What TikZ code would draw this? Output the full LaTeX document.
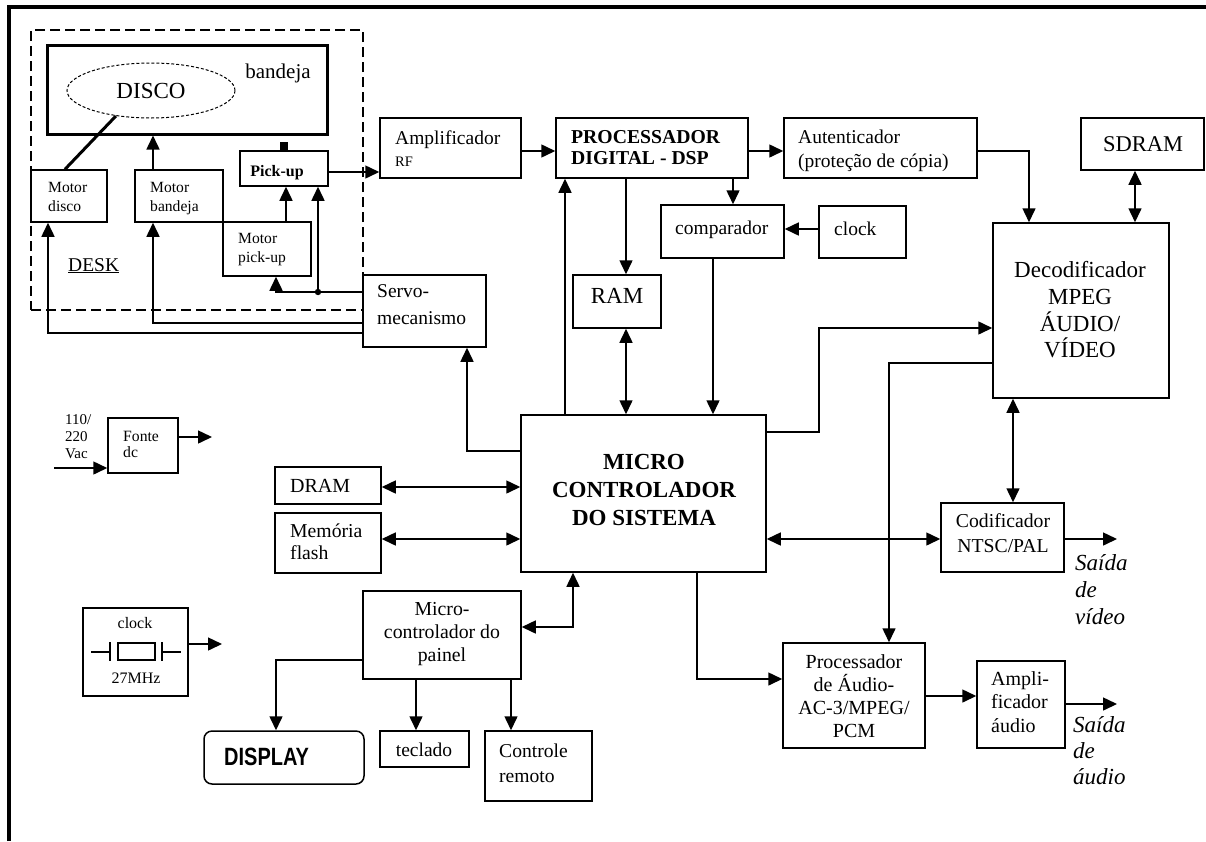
\documentclass[tikz,border=0pt]{standalone}
\usepackage{fontspec}
\usepackage{graphicx}
\setmainfont{Liberation Serif}
\newfontfamily\dispfont{Liberation Sans}
\usetikzlibrary{arrows.meta,fit,shapes.geometric}
\newcommand\myfs[2]{\fontsize{#1}{#2}\selectfont}
\begin{document}
\begin{tikzpicture}[x=1pt,y=-1pt,
  box/.style={draw, line width=1.5pt, inner sep=0pt},
  ln/.style={line width=1.5pt},
  arr/.style={ln, -{Triangle[length=14pt,width=13pt]}},
  barr/.style={ln, {Triangle[length=14pt,width=13pt]}-{Triangle[length=14pt,width=13pt]}},
  t/.style={inner sep=0pt, align=left, font=\myfs{19.5}{23}},
  tc/.style={inner sep=0pt, align=center, font=\myfs{19.5}{23}},
]
\useasboundingbox (0,0) rectangle (1206,841);
% frame
\draw[line width=4.5pt] (9,841) -- (9,7) -- (1206,7);

% desk area
\node[box, dash pattern=on 10pt off 5pt, fit={(31,30)(363,310)}] (desk) {};
\node[box, line width=3pt, fit={(47,45)(327,134)}] (band) {};
\node[t, font=\myfs{21}{21}, anchor=base] (bandt) at (278,78) {bandeja};
\node[draw, ellipse, line width=1pt, dash pattern=on 3pt off 2pt, minimum width=168pt, minimum height=55pt, inner sep=0pt, font=\myfs{23}{23}] (disco) at (151,90.5) {DISCO};
\node[box, fit={(31,170)(107,222)}] (md) {};
\node[t, font=\myfs{15.6}{19}, anchor=west] (mdt) at (48,197) {Motor\\disco};
\node[box, fit={(135,170)(223,222)}] (mb) {};
\node[t, font=\myfs{15.6}{19}, anchor=west] (mbt) at (150,199) {Motor\\bandeja};
\node[box, fit={(240,151)(328,186)}] (pu) {};
\node[fill, minimum size=8pt, inner sep=0pt, anchor=south] (pusq) at (pu.north) {};
\node[t, font=\bfseries\myfs{16}{16}] (put) at (277,173) {Pick-up};
\node[box, fit={(223,222)(311,276)}] (mpu) {};
\node[t, font=\myfs{15.6}{19}, anchor=west] (mput) at (238,250) {Motor\\pick-up};
\node[t, anchor=base west] (deskt) at (68,271) {\underline{DESK}};

\draw[line width=3pt] (disco.216.9) -- (md.north -| 65,0);
\draw[arr] (mb.north -| 153,0) -- (band.south -| 153,0);
\draw[arr] (mpu.north -| 286,0) -- (pu.south -| 286,0);

% servo
\node[box, fit={(363,275)(486,347)}] (servo) {};
\node[t, font=\myfs{19.5}{27}, anchor=west] (servot) at (377,305) {Servo-\\mecanismo};
\draw[arr] (servo.west |- 0,292) -| (mpu.south -| 276,0);
\coordinate (j) at (318,292);
\fill (j) circle (3.2pt);
\draw[arr] (j) -- (pu.south -| j);
\draw[arr] (servo.west |- 0,323) -| (mb.south -| 153,0);
\draw[arr] (servo.west |- 0,333) -| (md.south -| 48,0);

% top chain
\node[box, fit={(380,118)(521,178)}] (amp) {};
\node[t, font=\myfs{19.5}{22}, anchor=west] (ampt) at (395,149) {Amplificador\\{\myfs{14.5}{14.5}RF}};
\node[box, fit={(556,118)(748,178)}] (dsp) {};
\node[t, font=\bfseries\myfs{19.7}{21}, anchor=west] (dspt) at (571,148) {PROCESSADOR\\DIGITAL - DSP};
\node[box, fit={(784,118)(977,178)}] (aut) {};
\node[t, font=\myfs{19.5}{24}, anchor=west] (autt) at (798,151) {Autenticador\\(proteção de cópia)};
\node[box, fit={(1081,118)(1204,170)}] (sdram) {};
\node[tc, font=\myfs{22.5}{22.5}] (sdramt) at (1143,144) {SDRAM};
\node[box, fit={(993,223)(1169,398)}] (dec) {};
\node[tc, font=\myfs{23}{26.7}] (dect) at (1080,310) {Decodificador\\MPEG\\ÁUDIO/\\VÍDEO};
\node[box, fit={(819,206)(906,258)}] (clk) {};
\node[t, anchor=west] (clkt) at (834,229) {clock};
\node[box, fit={(661,205)(784,258)}] (comp) {};
\node[t, anchor=west] (compt) at (675,230) {comparador};
\node[box, fit={(573,275)(661,328)}] (ram) {};
\node[tc, font=\myfs{23}{23}] (ramt) at (617,296) {RAM};

\draw[arr] (pu.east |- 0,172) -- (amp.west |- 0,172);
\draw[arr] (amp.east |- 0,151) -- (dsp.west |- 0,151);
\draw[arr] (dsp.east |- 0,151) -- (aut.west |- 0,151);
\draw[arr] (aut.east |- 0,151) -| (dec.north -| 1029,0);
\draw[barr] (sdram.south -| 1135,0) -- (dec.north -| 1135,0);
\draw[arr] (clk.west |- 0,229) -- (comp.east |- 0,229);
\draw[arr] (dsp.south -| 733,0) -- (comp.north -| 733,0);
\draw[arr] (dsp.south -| 626,0) -- (ram.north -| 626,0);

% micro controlador
\node[box, fit={(521,415)(766,572)}] (mc) {};
\node[tc, font=\bfseries\myfs{23}{28}] (mct) at (644,490) {MICRO\\CONTROLADOR\\DO SISTEMA};
\draw[barr] (ram.south -| 626,0) -- (mc.north -| 626,0);
\draw[arr] (comp.south -| 713,0) -- (mc.north -| 713,0);
\draw[arr] (mc.north -| 565,0) -- (dsp.south -| 565,0);
\draw[arr] (mc.west |- 0,451) -| (servo.south -| 467,0);
\draw[arr] (mc.east |- 0,432) -| (819,328) -- (dec.west |- 0,328);

% memories
\node[box, fit={(275,467)(381,504)}] (dram) {};
\node[t, font=\myfs{20}{20}, anchor=west] (dramt) at (290,486) {DRAM};
\node[box, fit={(275,513)(381,573)}] (mem) {};
\node[t, font=\myfs{19.7}{22}, anchor=west] (memt) at (290,542) {Memória\\flash};
\draw[barr] (dram.east |- 0,487) -- (mc.west |- 0,487);
\draw[barr] (mem.east |- 0,539) -- (mc.west |- 0,539);

% video / audio outputs
\node[box, fit={(941,503)(1064,572)}] (cod) {};
\node[tc, font=\myfs{19.7}{25}] (codt) at (1003,533) {Codificador\\NTSC/PAL};
\node[box, fit={(783,643)(925,748)}] (pa) {};
\node[tc, font=\myfs{20}{23}] (pat) at (854,696) {Processador\\de Áudio-\\AC-3/MPEG/\\PCM};
\node[box, fit={(977,661)(1065,748)}] (ampa) {};
\node[t, font=\myfs{20}{23.5}, anchor=west] (ampat) at (991,702) {Ampli-\\ficador\\áudio};
\coordinate (vout) at (1117,539);
\coordinate (aout) at (1117,704);
\node[t, font=\itshape\myfs{23}{27}, anchor=west] (voutt) at (1075,590) {Saída\\de\\vídeo};
\node[t, font=\itshape\myfs{23}{26}, anchor=west] (aoutt) at (1073,751) {Saída\\de\\áudio};

\draw[arr] (dec.west |- 0,363) -| (pa.north -| 889,0);
\draw[barr] (mc.east |- 0,539) -- (cod.west |- 0,539);
\draw[barr] (dec.south -| 1013,0) -- (cod.north -| 1013,0);
\draw[arr] (cod.east |- 0,539) -- (vout);
\draw[arr] (mc.south -| 697,0) |- (pa.west |- 0,679);
\draw[arr] (pa.east |- 0,696) -- (ampa.west |- 0,696);
\draw[arr] (ampa.east |- 0,704) -- (aout);

% panel
\node[box, fit={(363,591)(521,679)}] (pan) {};
\node[tc, font=\myfs{19.8}{23}] (pant) at (442,634) {Micro-\\controlador do\\painel};
\node[box, rounded corners=8pt, fit={(204,731)(364,784)}] (disp) {};
\node[t, anchor=west] (dispt) at (224,757) {\dispfont\bfseries\myfs{25}{25}\scalebox{0.8}[1]{DISPLAY}};
\node[box, fit={(380,731)(469,767)}] (tec) {};
\node[tc] (tect) at (424,750) {teclado};
\node[box, fit={(485,731)(592,801)}] (ctrl) {};
\node[t, font=\myfs{19.6}{25}, anchor=west] (ctrlt) at (499,763) {Controle\\remoto};
\draw[barr] (pan.east |- 0,627) -| (mc.south -| 573,0);
\draw[arr] (pan.west |- 0,660) -| (disp.north -| 276,0);
\draw[arr] (pan.south -| 416,0) -- (tec.north -| 416,0);
\draw[arr] (pan.south -| 511,0) -- (ctrl.north -| 511,0);

% power supply
\node[box, fit={(108,418)(178,473)}] (fonte) {};
\node[t, font=\myfs{15.7}{16}, anchor=west] (fontet) at (123,444) {Fonte\\dc};
\node[t, font=\myfs{15}{17}, anchor=west] (vact) at (65,437) {110/\\220\\Vac};
\coordinate (fout) at (212,437);
\coordinate (vin) at (54,468);
\draw[arr] (fonte.east |- 0,437) -- (fout);
\draw[arr] (vin) -- (fonte.west |- 0,468);

% clock 27 MHz
\node[box, fit={(83,608)(188,696)}] (xtal) {};
\node[tc, font=\myfs{16}{16}] (xclk) at (135,623) {clock};
\node[tc, font=\myfs{16}{16}] (xfreq) at (136,678) {27MHz};
\draw[ln] (118,643) rectangle (155,660);
\draw[line width=2.2pt] (110,642) -- (110,661);
\draw[line width=2.2pt] (162,642) -- (162,661);
\draw[ln] (91,652) -- (110,652);
\draw[ln] (162,652) -- (181,652);
\coordinate (cout) at (222,644);
\draw[arr] (xtal.east |- 0,644) -- (cout);
\end{tikzpicture}
\end{document}
